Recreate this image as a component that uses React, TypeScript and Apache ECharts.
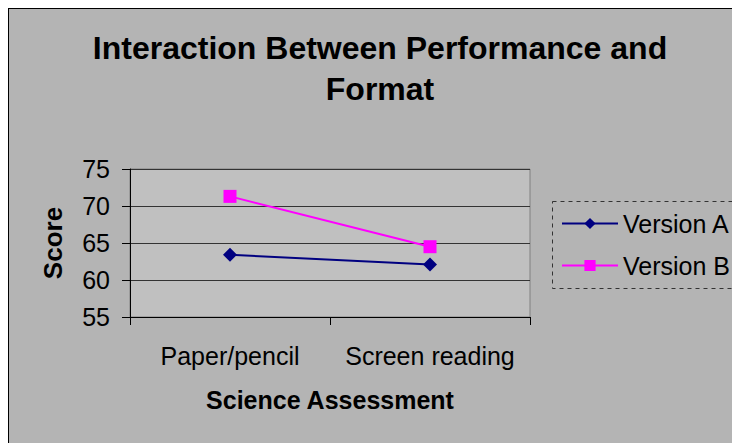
import React, { useEffect, useRef } from "react";
import * as echarts from "echarts";

const categories = ["Paper/pencil", "Screen reading"];
const versionA = [63.4, 62.1];
const versionB = [71.3, 64.5];
const seriesNames = ["Version A", "Version B"];
const yTicks = { min: 55, max: 75, interval: 5 };

export default function App() {
  const ref = useRef<HTMLDivElement>(null);
  useEffect(() => {
    if (!ref.current) return;
    const chart = echarts.init(ref.current, undefined, { renderer: "svg" });
    const font = "Liberation Sans, Arial, sans-serif";
    chart.setOption({
      animation: false,
      backgroundColor: "#b4b4b4",
      textStyle: { fontFamily: font },
      title: {
        text: "Interaction Between Performance and\nFormat",
        left: 367,
        textAlign: "center",
        top: 14,
        textStyle: {
          fontFamily: font,
          fontSize: 32,
          fontWeight: "bold",
          color: "#000",
          lineHeight: 41,
        },
      },
      grid: {
        left: 122,
        top: 161,
        width: 400,
        height: 148,
        show: true,
        backgroundColor: "#c0c0c0",
        borderColor: "#808080",
        borderWidth: 1,
      },
      legend: {
        left: 553,
        top: 203,
        padding: 0,
        orient: "vertical",
        itemWidth: 56,
        itemHeight: 14,
        itemGap: 17,
        data: seriesNames,
        textStyle: { fontFamily: font, fontSize: 25, color: "#000" },
      },
      xAxis: {
        type: "category",
        data: categories,
        boundaryGap: true,
        name: "Science Assessment",
        nameLocation: "middle",
        nameGap: 70,
        nameTextStyle: { fontFamily: font, fontSize: 25, fontWeight: "bold", color: "#000" },
        axisLine: { lineStyle: { color: "#000", width: 1 } },
        axisTick: { show: true, length: 8, lineStyle: { color: "#000" } },
        axisLabel: { fontFamily: font, fontSize: 25, color: "#000", margin: 26, interval: 0 },
        splitLine: { show: false },
      },
      yAxis: {
        type: "value",
        min: yTicks.min,
        max: yTicks.max,
        interval: yTicks.interval,
        name: "Score",
        nameLocation: "middle",
        nameGap: 64,
        nameTextStyle: { fontFamily: font, fontSize: 26, fontWeight: "bold", color: "#000" },
        axisLine: { show: true, lineStyle: { color: "#000", width: 1 } },
        axisTick: { show: true, length: 8, lineStyle: { color: "#000" } },
        axisLabel: { fontFamily: font, fontSize: 25, color: "#000", margin: 20 },
        splitLine: { show: true, lineStyle: { color: "#333", width: 1 } },
      },
      series: [
        {
          name: seriesNames[0],
          type: "line",
          data: versionA,
          color: "#000080",
          symbol: "diamond",
          symbolSize: 14,
          lineStyle: { width: 2, color: "#000080" },
          itemStyle: { color: "#000080" },
        },
        {
          name: seriesNames[1],
          type: "line",
          data: versionB,
          color: "#ff00ff",
          symbol: "rect",
          symbolSize: 13,
          lineStyle: { width: 2, color: "#ff00ff" },
          itemStyle: { color: "#ff00ff" },
        },
      ],
      graphic: [
        {
          type: "rect",
          shape: { x: 544.5, y: 193.5, width: 250, height: 87 },
          style: { fill: "none", stroke: "#333", lineWidth: 1, lineDash: [4, 4] },
          z: 1,
        },
        {
          type: "line",
          shape: { x1: 0.5, y1: 0, x2: 0.5, y2: 435 },
          style: { stroke: "#000", lineWidth: 1 },
        },
        {
          type: "line",
          shape: { x1: 0, y1: 0.5, x2: 732, y2: 0.5 },
          style: { stroke: "#000", lineWidth: 1 },
        },
      ],
    });
    return () => chart.dispose();
  }, []);
  return <div ref={ref} style={{ width: 732, height: 435 }} />;
}
